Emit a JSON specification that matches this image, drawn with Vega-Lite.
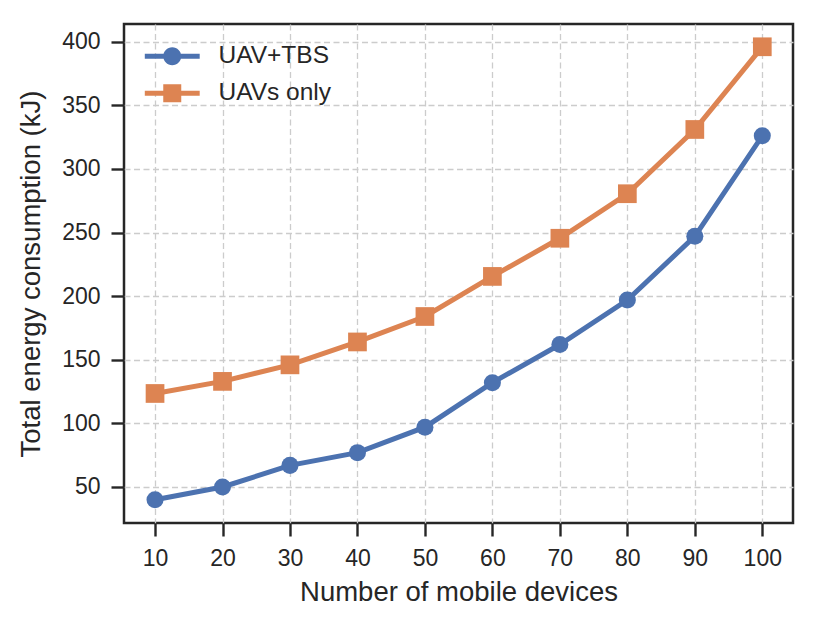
{
  "$schema": "https://vega.github.io/schema/vega-lite/v6.json",
  "width": 669,
  "height": 499,
  "autosize": "none",
  "padding": {"left": 124, "top": 24, "right": 37, "bottom": 100},
  "background": "white",
  "config": {
    "font": "Liberation Sans",
    "view": {"stroke": "#262626", "strokeWidth": 2.5},
    "axis": {
      "domain": false,
      "grid": true,
      "gridColor": "#cccccc",
      "gridDash": [6, 3.5],
      "gridWidth": 1.3,
      "tickColor": "#262626",
      "tickSize": 13,
      "tickWidth": 2.4,
      "labelFont": "Liberation Sans",
      "labelFontSize": 23,
      "labelColor": "#262626",
      "labelPadding": 11,
      "titleFont": "Liberation Sans",
      "titleFontSize": 27.5,
      "titleFontWeight": "normal",
      "titleColor": "#262626"
    }
  },
  "data": {
    "values": [
      {"devices": 10, "energy": 40, "series": "UAV+TBS"},
      {"devices": 20, "energy": 50, "series": "UAV+TBS"},
      {"devices": 30, "energy": 67, "series": "UAV+TBS"},
      {"devices": 40, "energy": 77, "series": "UAV+TBS"},
      {"devices": 50, "energy": 97, "series": "UAV+TBS"},
      {"devices": 60, "energy": 132, "series": "UAV+TBS"},
      {"devices": 70, "energy": 162, "series": "UAV+TBS"},
      {"devices": 80, "energy": 197, "series": "UAV+TBS"},
      {"devices": 90, "energy": 247, "series": "UAV+TBS"},
      {"devices": 100, "energy": 326, "series": "UAV+TBS"},
      {"devices": 10, "energy": 123.5, "series": "UAVs only"},
      {"devices": 20, "energy": 133, "series": "UAVs only"},
      {"devices": 30, "energy": 146, "series": "UAVs only"},
      {"devices": 40, "energy": 164, "series": "UAVs only"},
      {"devices": 50, "energy": 184, "series": "UAVs only"},
      {"devices": 60, "energy": 215.5, "series": "UAVs only"},
      {"devices": 70, "energy": 245.5, "series": "UAVs only"},
      {"devices": 80, "energy": 280.5, "series": "UAVs only"},
      {"devices": 90, "energy": 331, "series": "UAVs only"},
      {"devices": 100, "energy": 396, "series": "UAVs only"}
    ]
  },
  "encoding": {
    "x": {
      "field": "devices",
      "type": "quantitative",
      "title": "Number of mobile devices",
      "scale": {"domain": [5.4, 104.55], "nice": false, "zero": false},
      "axis": {"values": [10, 20, 30, 40, 50, 60, 70, 80, 90, 100], "titlePadding": 8}
    },
    "y": {
      "field": "energy",
      "type": "quantitative",
      "title": "Total energy consumption (kJ)",
      "scale": {"domain": [21.7, 413.9], "nice": false, "zero": false},
      "axis": {"values": [50, 100, 150, 200, 250, 300, 350, 400], "titlePadding": 16}
    },
    "color": {
      "field": "series",
      "type": "nominal",
      "scale": {"domain": ["UAV+TBS", "UAVs only"], "range": ["#4c72b0", "#dd8452"]},
      "legend": {
        "title": null,
        "orient": "none",
        "legendX": 36,
        "legendY": 20,
        "padding": 0,
        "symbolSize": 324,
        "labelFont": "Liberation Sans",
        "labelFontSize": 24.5,
        "labelColor": "#262626",
        "labelOffset": 34,
        "rowPadding": 12,
        "encoding": {
          "symbols": {
            "shape": {"value": {"expr": "datum.value === 'UAV+TBS' ? 'M-3.05,-0.27H3.05V0.27H-3.05Z M1,0A1,1,0,1,1,-1,0A1,1,0,1,1,1,0Z' : 'M-3.05,-0.27H3.05V0.27H-3.05Z M-1,-1H1V1H-1Z'"}},
            "fill": {"value": {"expr": "scale('color', datum.value)"}},
            "strokeWidth": {"value": 0},
            "opacity": {"value": 1}
          }
        }
      }
    }
  },
  "layer": [
    {
      "mark": {"type": "line", "strokeWidth": 5},
      "encoding": {}
    },
    {
      "transform": [{"filter": "datum.series === 'UAV+TBS'"}],
      "mark": {"type": "point", "filled": true, "opacity": 1, "shape": "circle", "size": 290}
    },
    {
      "transform": [{"filter": "datum.series === 'UAVs only'"}],
      "mark": {"type": "point", "filled": true, "opacity": 1, "shape": "square", "size": 350}
    }
  ]
}
